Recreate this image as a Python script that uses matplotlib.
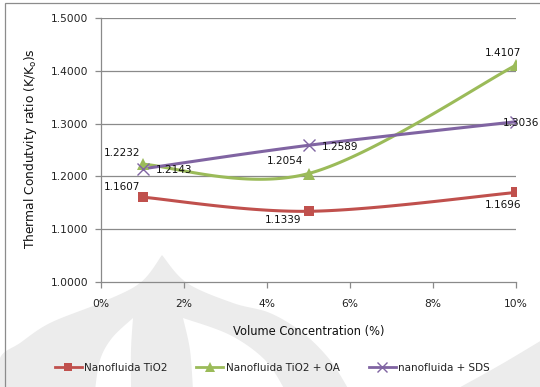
import matplotlib
matplotlib.use("Agg")
import matplotlib.pyplot as plt
import numpy as np
from matplotlib.patches import Polygon, Rectangle
from matplotlib.lines import Line2D

# ---- data ----
concentration = [1, 5, 10]  # volume %
tio2 = [1.1607, 1.1339, 1.1696]
tio2_oa = [1.2232, 1.2054, 1.4107]
tio2_sds = [1.2143, 1.2589, 1.3036]
series_names = ["Nanofluida TiO2", "Nanofluida TiO2 + OA", "nanofluida + SDS"]
x_ticks = [0, 2, 4, 6, 8, 10]
x_tick_labels = ["0%", "2%", "4%", "6%", "8%", "10%"]
y_ticks = [1.0, 1.1, 1.2, 1.3, 1.4, 1.5]

W, H = 540, 387
fig = plt.figure(figsize=(W / 100, H / 100), dpi=100)
fig.patch.set_facecolor("white")


def fpx(x, y):
    """figure pixel (top-left origin) -> figure fraction"""
    return (x / W, 1 - y / H)


def catmull(pts, n=12):
    """smooth open curve through the given pixel points"""
    p = np.asarray(pts, float)
    ext = np.vstack([p[0], p, p[-1]])
    out = [p[0]]
    for i in range(len(p) - 1):
        p0, p1, p2, p3 = ext[i], ext[i + 1], ext[i + 2], ext[i + 3]
        for t in np.linspace(0, 1, n)[1:]:
            t2, t3 = t * t, t * t * t
            out.append(0.5 * ((2 * p1) + (-p0 + p2) * t + (2 * p0 - 5 * p1 + 4 * p2 - p3) * t2
                              + (-p0 + 3 * p1 - 3 * p2 + p3) * t3))
    return np.array(out)


def blob(*curves, color, z=-3):
    pts = np.vstack([catmull(c) for c in curves])
    fig.patches.append(Polygon([fpx(x, y) for x, y in pts], closed=True,
                               transform=fig.transFigure, facecolor=color,
                               edgecolor="none", zorder=z))


# faint background emblem
wm = "#ececec"
blob([(0, 390), (0, 358), (20, 343), (50, 323), (100, 303), (140, 283), (162, 255)],
     [(162, 255), (187, 283), (233, 303), (270, 313), (303, 333), (330, 360), (349, 390)],
     color=wm)
blob([(133, 318), (112, 338), (100, 360), (95, 390)],
     [(131, 390), (131, 350), (133, 318)], color="white", z=-2.5)
blob([(183, 318), (230, 335), (265, 360), (285, 390)],
     [(193, 390), (190, 350), (183, 318)], color="white", z=-2.5)
blob([(455, 390), (500, 365), (542, 340)], [(542, 390)], color=wm)

# outer chart border
fig.patches.append(Rectangle(fpx(5, 392), 545 / W, 389 / H, transform=fig.transFigure,
                             facecolor="none", edgecolor="#8c8c8c", lw=0.9, zorder=-1))

ax = fig.add_axes([101 / W, 1 - 282 / H, 415 / W, 264 / H])
ax.set_facecolor("none")
ax.set_xlim(0, 10)
ax.set_ylim(1.0, 1.5)


def excel_smooth(xs, ys, n=60):
    """Bezier smoothing in the style of spreadsheet smoothed lines."""
    pts = np.column_stack([xs, ys]).astype(float)
    ext = np.vstack([pts[0], pts, pts[-1]])
    out = []
    for i in range(len(pts) - 1):
        p0, p1 = ext[i + 1], ext[i + 2]
        c1 = p0 + (ext[i + 2] - ext[i]) / 6
        c2 = p1 - (ext[i + 3] - ext[i + 1]) / 6
        t = np.linspace(0, 1, n)[:, None]
        seg = ((1 - t) ** 3) * p0 + 3 * ((1 - t) ** 2) * t * c1 + 3 * (1 - t) * t ** 2 * c2 + t ** 3 * p1
        out.append(seg if i == 0 else seg[1:])
    out = np.vstack(out)
    return out[:, 0], out[:, 1]


colors = ["#C0504D", "#9BBB59", "#8064A2"]
markers = ["s", "^", "x"]
msizes = [7, 8, 8]
datasets = [tio2, tio2_oa, tio2_sds]

for ys, c, m, ms in zip(datasets, colors, markers, msizes):
    sx, sy = excel_smooth(concentration, ys)
    ax.plot(sx, sy, color=c, lw=2.2, solid_capstyle="round", zorder=3)
    ax.plot(concentration, ys, ls="none", marker=m, ms=ms, color=c,
            mew=1.0 if m == "x" else 0, zorder=4)

# value labels (pixel offsets, converted to points)
label_offsets = {
    0: [(-2, 10, "right"), (-25, -9, "center"), (-13, -13, "center")],
    1: [(-2, 11, "right"), (-5, 12.5, "right"), (-13, 12, "center")],
    2: [(13, -1, "left"), (13, -2, "left"), (-13, -1, "left")],
}
for si, ys in enumerate(datasets):
    for (xv, yv), (dx, dy, ha) in zip(zip(concentration, ys), label_offsets[si]):
        ax.annotate(f"{yv:.4f}", (xv, yv), xytext=(dx * 0.72, dy * 0.72),
                    textcoords="offset points", ha=ha, va="center",
                    fontsize=7.5, color="#111111", zorder=5)

# grid and axes styling
ax.set_yticks(y_ticks)
ax.set_yticklabels([f"{v:.4f}" for v in y_ticks])
ax.set_xticks(x_ticks)
ax.set_xticklabels(x_tick_labels)
for v in y_ticks[1:]:
    ax.axhline(v, color="#8a8a8a", lw=0.9, zorder=1)
for s in ["top", "right"]:
    ax.spines[s].set_visible(False)
for s in ["left", "bottom"]:
    ax.spines[s].set_color("#8a8a8a")
    ax.spines[s].set_linewidth(0.9)
ax.tick_params(axis="both", direction="out", length=4, width=0.9, color="#8a8a8a",
               labelsize=7.7, labelcolor="#222222")
ax.tick_params(axis="x", pad=8)
ax.tick_params(axis="y", pad=5)

ax.set_xlabel("Volume Concentration (%)", fontsize=8.3, color="#111111", labelpad=12)
ax.set_ylabel(r"Thermal Condutvity ratio (K/K$_\mathregular{o}$)s", fontsize=8.8,
              color="#111111")
ax.yaxis.set_label_coords(-0.150, 0.504)

handles = [Line2D([], [], color=c, lw=2.0, marker=m, ms=ms - 1,
                  mew=1.0 if m == "x" else 0)
           for c, m, ms in zip(colors, markers, msizes)]
leg = fig.legend(handles, series_names, loc="center", bbox_to_anchor=fpx(272, 368),
                 ncol=3, frameon=False, fontsize=7.5, handlelength=2.6, handletextpad=0.2,
                 columnspacing=2.8, labelcolor="#222222")
leg.set_zorder(5)

fig.savefig("out.png", dpi=100, facecolor="white")
